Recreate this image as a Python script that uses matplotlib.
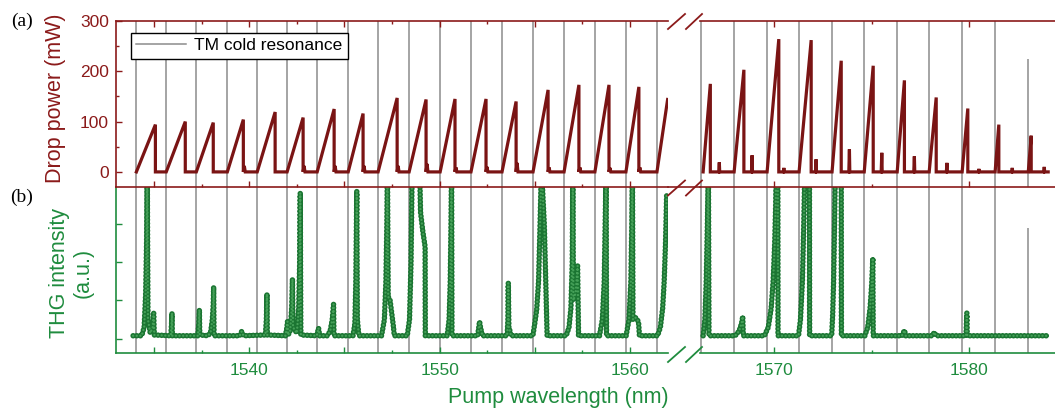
import matplotlib
matplotlib.use('Agg')
import matplotlib.pyplot as plt
from matplotlib.lines import Line2D
from matplotlib.ticker import MultipleLocator, FuncFormatter, NullFormatter, NullLocator

plt.rcParams['font.family'] = ['Liberation Sans', 'DejaVu Sans']

# ---------------- data ----------------
# TM cold resonance wavelengths (nm)
tm_left = [1534.07, 1535.64, 1537.22, 1538.85, 1540.42, 1541.99, 1543.57, 1545.20, 1546.77,
           1548.40, 1550.03, 1551.65, 1553.28, 1554.91, 1556.54, 1558.16, 1559.79, 1561.42]
tm_right = [1566.26, 1567.95, 1569.64, 1571.28, 1572.97, 1574.62, 1576.31, 1577.95, 1579.64, 1581.33]
tm_partial_wl = 1583.03
tm_partial_top = 224      # mW level where the last line starts (panel a)
tm_partial_thg = 2.9      # a.u. level where the last line starts (panel b)

# Drop power, left segment: start of each thermal triangle, peak wavelength, peak power, small bump after drop
dp_left_start = [1534.07, 1535.64, 1537.22, 1538.85, 1540.42, 1541.99, 1543.57, 1545.20, 1546.77,
                 1548.40, 1550.03, 1551.65, 1553.28, 1554.91, 1556.54, 1558.16, 1559.79, 1561.42]
dp_left_peak_wl = [1535.07, 1536.64, 1538.11, 1539.69, 1541.36, 1542.83, 1544.46, 1545.98, 1547.77,
                   1549.29, 1550.81, 1552.44, 1554.02, 1555.70, 1557.32, 1558.90, 1560.47, 1561.98]
dp_left_peak = [94, 100, 98, 104, 119, 108, 125, 116, 147, 144, 145, 145, 140, 163, 173, 173, 169, 144]
dp_left_bump = [0, 0, 0, 12, 0, 12, 12, 12, 12, 16, 9, 10, 18, 9, 9, 8, 9, 0]

# Drop power, right segment
dp_right_start = [1566.36, 1567.95, 1569.64, 1571.28, 1572.97, 1574.62, 1576.31, 1577.95, 1579.64, 1581.33, 1583.03]
dp_right_peak_wl = [1566.73, 1568.45, 1570.24, 1571.90, 1573.44, 1575.08, 1576.68, 1578.31, 1579.93, 1581.52, 1583.18]
dp_right_peak = [175, 203, 264, 262, 221, 211, 182, 148, 126, 94, 72]
dp_right_spike_wl = [1567.19, 1568.87, 1570.50, 1572.15, 1573.86, 1575.52, 1577.19, 1578.86, 1580.50, 1582.21, 1583.85]
dp_right_spike = [19, 33, 8, 25, 45, 38, 31, 18, 6, 8, 10]
dp_right_end = 1584.05

# THG intensity (a.u.), left segment
thg_left_wl = [1533.90,
               1534.35, 1534.48, 1534.56, 1534.61, 1534.64, 1534.68, 1534.80, 1534.93, 1534.98, 1535.01,
               1535.88, 1535.92, 1535.94, 1535.96,
               1537.30, 1537.35, 1537.38, 1537.40,
               1537.85, 1537.98, 1538.06, 1538.11, 1538.13, 1538.15,
               1539.50, 1539.60, 1539.70,
               1540.85, 1540.90, 1540.93, 1540.95,
               1541.90, 1541.98, 1542.01, 1542.04, 1542.15, 1542.23, 1542.27, 1542.30, 1542.50, 1542.60, 1542.65, 1542.68, 1542.71,
               1543.55, 1543.64, 1543.70,
               1544.10, 1544.25, 1544.36, 1544.43, 1544.45,
               1545.45, 1545.55, 1545.60, 1545.63, 1545.65, 1545.68, 1545.72, 1545.76,
               1546.95, 1547.10, 1547.18, 1547.23, 1547.26, 1547.30, 1547.40, 1547.50, 1547.58, 1547.62,
               1548.30, 1548.42, 1548.50, 1548.56, 1548.95, 1549.00, 1549.12, 1549.24, 1549.25,
               1550.40, 1550.50, 1550.56, 1550.60, 1550.63, 1550.65,
               1552.00, 1552.10, 1552.15, 1552.25,
               1553.55, 1553.59, 1553.61, 1553.64, 1553.70, 1553.75,
               1554.90, 1555.00, 1555.10, 1555.20, 1555.28, 1555.35, 1555.50, 1555.58, 1555.63, 1555.65,
               1556.65, 1556.80, 1556.90, 1556.97, 1557.00, 1557.03, 1557.15, 1557.25, 1557.30,
               1558.40, 1558.55, 1558.65, 1558.70, 1558.75, 1558.77,
               1559.80, 1559.95, 1560.05, 1560.10, 1560.13, 1560.16, 1560.30, 1560.45, 1560.50,
               1561.45, 1561.60, 1561.72, 1561.80, 1561.87, 1561.93]
thg_left_val = [0.08,
                0.08, 0.3, 1.2, 2.6, 4.5, 0.5, 0.15, 0.3, 0.67, 0.1,
                0.08, 0.4, 0.67, 0.08,
                0.08, 0.4, 0.76, 0.1,
                0.08, 0.2, 0.5, 0.9, 1.35, 0.08,
                0.08, 0.19, 0.08,
                0.1, 0.5, 1.17, 0.1,
                0.08, 0.3, 0.45, 0.1, 0.2, 0.8, 1.56, 0.3, 0.15, 0.8, 2.0, 3.8, 0.1,
                0.08, 0.28, 0.08,
                0.08, 0.2, 0.5, 0.9, 0.08,
                0.08, 0.4, 1.5, 2.8, 3.85, 0.5, 0.3, 0.08,
                0.08, 0.5, 1.5, 3.0, 4.5, 1.1, 1.0, 0.6, 0.3, 0.08,
                0.08, 0.5, 2.0, 4.5, 4.5, 3.3, 2.8, 2.4, 0.08,
                0.08, 0.5, 1.5, 3.0, 4.5, 0.08,
                0.08, 0.45, 0.3, 0.08,
                0.08, 0.5, 1.45, 0.3, 0.2, 0.08,
                0.08, 0.4, 0.75, 1.5, 3.0, 4.5, 3.0, 1.5, 0.6, 0.08,
                0.08, 0.3, 0.8, 2.0, 4.5, 1.0, 1.2, 1.9, 0.08,
                0.08, 0.5, 1.5, 3.0, 4.5, 0.08,
                0.08, 0.5, 1.5, 3.0, 4.5, 0.5, 0.55, 0.45, 0.08,
                0.08, 0.3, 0.8, 1.5, 2.5, 3.76]

# THG intensity (a.u.), right segment
thg_right_wl = [1566.36, 1566.45, 1566.52, 1566.58, 1566.63, 1566.66,
                1568.00, 1568.20, 1568.33, 1568.39, 1568.42,
                1569.50, 1569.70, 1569.85, 1569.95, 1570.03, 1570.08, 1570.11, 1570.19, 1570.20,
                1571.25, 1571.35, 1571.45, 1571.52, 1571.58, 1571.81, 1571.82,
                1572.95, 1573.00, 1573.05, 1573.10, 1573.14, 1573.44, 1573.45,
                1574.65, 1574.80, 1574.92, 1575.00, 1575.06, 1575.08,
                1576.55, 1576.68, 1576.75,
                1578.10, 1578.22, 1578.30,
                1579.84, 1579.86, 1579.88, 1579.90,
                1584.04]
thg_right_val = [0.08, 0.5, 1.5, 3.0, 4.5, 0.08,
                 0.08, 0.2, 0.4, 0.58, 0.08,
                 0.08, 0.3, 0.8, 1.5, 2.5, 3.5, 4.5, 4.5, 0.08,
                 0.08, 0.5, 1.5, 3.0, 4.5, 4.5, 0.08,
                 0.08, 0.6, 1.5, 3.0, 4.5, 4.5, 0.08,
                 0.08, 0.3, 0.8, 1.4, 2.1, 0.08,
                 0.08, 0.22, 0.08,
                 0.08, 0.17, 0.08,
                 0.08, 0.4, 0.67, 0.08,
                 0.08]

legend_label = 'TM cold resonance'
xlabel = 'Pump wavelength (nm)'
ylabel_a = 'Drop power (mW)'
ylabel_b = 'THG intensity\n(a.u.)'

# ---------------- style ----------------
RED = '#8b1a1a'
DRED = '#7a1414'
GREEN = '#1f8c3e'
DGREEN = '#1b7532'
LGREEN = '#45a058'
GRAY = '#8c8c8c'

W, H = 1055, 409
fig = plt.figure(figsize=(W / 100, H / 100), dpi=100)

L_END = 668   # px, right end of left segment
R_START = 700 # px, left start of right segment
X0 = 116
Y_TOP, Y_MID, Y_BOT = 21, 187, 353

def rect(x0, x1, y0, y1):
    return [x0 / W, 1 - y1 / H, (x1 - x0) / W, (y1 - y0) / H]

axTL = fig.add_axes(rect(X0, L_END, Y_TOP, Y_MID))
axTR = fig.add_axes(rect(R_START, W, Y_TOP, Y_MID))
axBL = fig.add_axes(rect(X0, L_END, Y_MID, Y_BOT))
axBR = fig.add_axes(rect(R_START, W, Y_MID, Y_BOT))

XL = (1533.0, 1562.0)
XR = (1566.2, 1584.4)
YA = (-30, 300)
YB = (-0.37, 3.96)

for ax in (axTL, axBL):
    ax.set_xlim(*XL)
for ax in (axTR, axBR):
    ax.set_xlim(*XR)
for ax in (axTL, axTR):
    ax.set_ylim(*YA)
for ax in (axBL, axBR):
    ax.set_ylim(*YB)

# ---------------- gray TM resonance lines ----------------
for ax in (axTL, axBL):
    for w in tm_left:
        ax.axvline(w, color=GRAY, lw=1.1, zorder=1)
for ax in (axTR, axBR):
    for w in tm_right:
        ax.axvline(w, color=GRAY, lw=1.1, zorder=1)
axTR.vlines(tm_partial_wl, YA[0], tm_partial_top, color=GRAY, lw=1.1, zorder=1)
axBR.vlines(tm_partial_wl, YB[0], tm_partial_thg, color=GRAY, lw=1.1, zorder=1)

# ---------------- drop power (a) ----------------
xs, ys = [], []
n = len(dp_left_start)
for i in range(n):
    xs += [dp_left_start[i], dp_left_peak_wl[i]]
    ys += [0, dp_left_peak[i]]
    if i < n - 1:
        xs.append(dp_left_peak_wl[i]); ys.append(0)
        if dp_left_bump[i] > 0:
            xs += [dp_left_peak_wl[i] + 0.05, dp_left_peak_wl[i] + 0.10]
            ys += [dp_left_bump[i], 0]
axTL.plot(xs, ys, color=DRED, lw=2.3, zorder=3, solid_joinstyle='miter')

xs, ys = [], []
for i in range(len(dp_right_start)):
    pk = dp_right_peak_wl[i]
    sp = dp_right_spike_wl[i]
    xs += [dp_right_start[i], pk, pk, sp - 0.03, sp, sp + 0.02]
    ys += [0, dp_right_peak[i], 0, 0, dp_right_spike[i], 0]
xs.append(dp_right_end); ys.append(0)
axTR.plot(xs, ys, color=DRED, lw=2.3, zorder=3, solid_joinstyle='miter')

# ---------------- THG (b): line with ring markers along it ----------------
SP = 2.6   # spacing of the circle markers along the path (pt)
def thg_plot(ax, x, y):
    ax.plot(x, y, color=DGREEN, lw=1.4, zorder=3)
    w1, w2 = 4.0, 1.7
    ax.plot(x, y, color=DGREEN, lw=w1, zorder=4, dash_capstyle='round',
            linestyle=(0, (0.01 / w1, SP / w1)))
    ax.plot(x, y, color=LGREEN, lw=w2, zorder=5, dash_capstyle='round',
            linestyle=(0, (0.01 / w2, SP / w2)))

thg_plot(axBL, thg_left_wl, thg_left_val)
thg_plot(axBR, thg_right_wl, thg_right_val)

# ---------------- legend ----------------
h = [Line2D([], [], color=GRAY, lw=1.1)]
leg = axTL.legend(h, [legend_label], loc='upper left', bbox_to_anchor=(0.027, 0.928),
                  borderaxespad=0, frameon=True, fancybox=False, edgecolor='black',
                  framealpha=1, fontsize=12.5, handlelength=2.9, handletextpad=0.45,
                  borderpad=0.3)
leg.get_frame().set_linewidth(1.0)
leg.set_zorder(10)

# ---------------- spines & ticks ----------------
SPW = 1.2
def lab10(v, pos):
    return f'{v:.0f}' if abs(v / 10 - round(v / 10)) < 1e-6 else ''

# top-left
axTL.spines['right'].set_visible(False)
for s in ('left', 'top', 'bottom'):
    axTL.spines[s].set_color(RED); axTL.spines[s].set_linewidth(SPW)
axTL.xaxis.set_major_locator(MultipleLocator(5))
axTL.xaxis.set_minor_locator(MultipleLocator(2.5))
axTL.xaxis.set_major_formatter(NullFormatter())
axTL.yaxis.set_major_locator(MultipleLocator(100))
axTL.yaxis.set_minor_locator(MultipleLocator(50))
axTL.tick_params(axis='x', which='both', direction='in', top=True, bottom=True,
                 labelbottom=False, color=RED, width=1)
axTL.tick_params(axis='y', which='both', direction='in', left=True, right=False,
                 color=RED, labelcolor=RED, labelsize=12.5, width=1, pad=5)
axTL.tick_params(which='major', length=4.5)
axTL.tick_params(which='minor', length=2.5)

# top-right
for s in ('left', 'right'):
    axTR.spines[s].set_visible(False)
for s in ('top', 'bottom'):
    axTR.spines[s].set_color(RED); axTR.spines[s].set_linewidth(SPW)
axTR.xaxis.set_major_locator(MultipleLocator(10))
axTR.xaxis.set_minor_locator(MultipleLocator(5))
axTR.xaxis.set_major_formatter(NullFormatter())
axTR.yaxis.set_major_locator(NullLocator())
axTR.tick_params(axis='x', which='both', direction='in', top=True, bottom=True,
                 labelbottom=False, color=RED, width=1)
axTR.tick_params(which='major', length=4.5)
axTR.tick_params(which='minor', length=2.5)

# bottom-left
for s in ('right', 'top'):
    axBL.spines[s].set_visible(False)
for s in ('left', 'bottom'):
    axBL.spines[s].set_color(GREEN); axBL.spines[s].set_linewidth(SPW)
axBL.xaxis.set_major_locator(MultipleLocator(5))
axBL.xaxis.set_minor_locator(MultipleLocator(2.5))
axBL.xaxis.set_major_formatter(FuncFormatter(lab10))
axBL.yaxis.set_major_locator(MultipleLocator(1))
axBL.yaxis.set_major_formatter(NullFormatter())
axBL.tick_params(axis='x', which='both', direction='in', top=False, bottom=True,
                 color=GREEN, labelcolor=GREEN, labelsize=12.5, width=1, pad=7)
axBL.tick_params(axis='y', which='both', direction='in', left=True, right=False,
                 color=GREEN, width=1)
axBL.tick_params(which='major', length=4.5)
axBL.tick_params(which='minor', length=2.5)

# bottom-right
for s in ('left', 'right', 'top'):
    axBR.spines[s].set_visible(False)
axBR.spines['bottom'].set_color(GREEN); axBR.spines['bottom'].set_linewidth(SPW)
axBR.xaxis.set_major_locator(MultipleLocator(10))
axBR.xaxis.set_minor_locator(MultipleLocator(5))
axBR.xaxis.set_major_formatter(FuncFormatter(lab10))
axBR.yaxis.set_major_locator(NullLocator())
axBR.tick_params(axis='x', which='both', direction='in', top=False, bottom=True,
                 color=GREEN, labelcolor=GREEN, labelsize=12.5, width=1, pad=7)
axBR.tick_params(which='major', length=4.5)
axBR.tick_params(which='minor', length=2.5)

# keep the red middle spine above the lower panel
axTL.set_zorder(2); axTR.set_zorder(2)
axTL.patch.set_alpha(0); axTR.patch.set_alpha(0)

# ---------------- break marks & joining line ----------------
def fig_line(x0, y0, x1, y1, color, lw=1.3):
    fig.add_artist(Line2D([x0 / W, x1 / W], [1 - y0 / H, 1 - y1 / H],
                          transform=fig.transFigure, color=color, lw=lw, zorder=20))

fig_line(L_END, Y_MID, R_START, Y_MID, RED, lw=SPW)
for yc, col in ((Y_TOP + 0.5, RED), (Y_MID + 1, RED), (Y_BOT + 1.5, GREEN)):
    fig_line(L_END, yc + 7.5, L_END + 17, yc - 7.5, col)
    fig_line(L_END + 18, yc + 7.5, R_START + 2, yc - 7.5, col)

# ---------------- labels ----------------
fig.text(55 / W, 1 - 98 / H, ylabel_a, rotation=90, ha='center', va='center',
         color=RED, fontsize=15.5)
fig.text(71 / W, 1 - 273 / H, ylabel_b, rotation=90, ha='center', va='center',
         color=GREEN, fontsize=15.5, multialignment='center', linespacing=1.15)
fig.text(558 / W, 1 - 397 / H, xlabel, ha='center', va='center', color=GREEN, fontsize=15.5)
fig.text(22 / W, 1 - 21 / H, '(a)', ha='center', va='center', fontsize=14,
         family=['Liberation Serif', 'DejaVu Serif'])
fig.text(22 / W, 1 - 197 / H, '(b)', ha='center', va='center', fontsize=14,
         family=['Liberation Serif', 'DejaVu Serif'])

fig.savefig('out.png', dpi=100)
